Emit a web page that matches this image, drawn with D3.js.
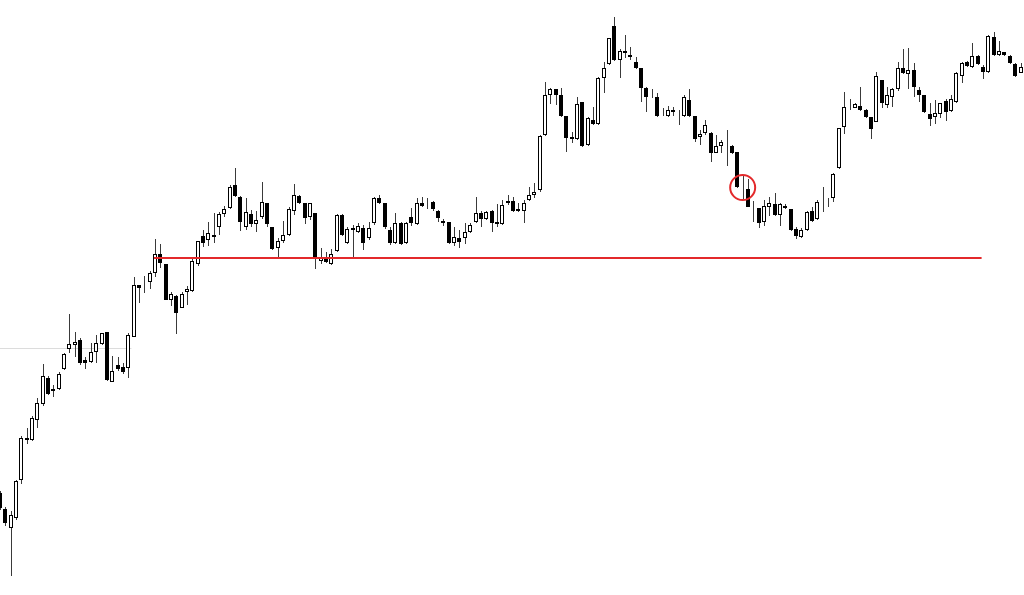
<!DOCTYPE html>
<html>
<head>
<meta charset="utf-8">
<script src="https://cdn.jsdelivr.net/npm/d3@7"></script>
<style>
  html, body { margin: 0; padding: 0; background: #fff; }
  svg { display: block; }
</style>
</head>
<body>
<div id="chart"></div>
<script>
// ---- Data (price units) ----
const opens = [
  107,91,72,82,120,160,160,180,196,222,
  209,211,231,251,255,260,240,238,248,256,
  268,218,235,233,232,263,315,313,318,327,
  346,336,300,304,292,308,309,336,364,360,
  363,373,386,392,415,403,373,386,376,383,
  397,373,352,359,365,389,404,397,383,387,
  339,343,336,349,385,357,372,368,372,362,
  377,402,397,370,357,377,357,383,376,397,
  397,398,389,379,378,357,362,362,368,378,
  387,381,389,378,376,397,399,391,389,400,
  405,410,465,505,511,505,484,463,461,498,
  455,480,476,522,536,574,540,549,545,538,
  532,512,504,503,486,484,490,486,484,500,
  484,463,467,467,447,454,455,454,448,412,
  411,392,392,378,393,396,385,394,391,371,
  363,370,389,381,398,398,402,432,473,492,
  492,494,490,483,478,520,495,503,511,532,
  526,530,510,505,486,483,486,499,489,498,
  524,538,533,544,533,528,563,545,548,544,
  536,527
];
const highs = [
  109,93,89,120,164,172,184,202,236,224,
  215,228,247,286,268,262,243,257,265,267,
  268,244,243,237,267,323,315,324,329,361,
  356,336,308,305,308,314,341,359,370,378,
  387,388,394,415,432,404,402,390,389,418,
  397,373,362,379,393,416,405,397,397,387,
  352,348,351,386,386,373,375,377,375,378,
  403,405,397,373,387,378,378,392,402,403,
  402,399,390,381,378,373,370,377,377,403,
  389,389,390,396,400,405,403,397,400,413,
  417,465,518,512,511,512,484,468,503,498,
  483,493,523,538,562,583,551,565,553,543,
  532,513,511,507,492,494,493,490,505,511,
  484,470,480,468,465,460,470,455,448,425,
  421,399,392,400,403,407,397,396,391,373,
  372,389,393,400,413,402,427,472,508,501,
  497,513,491,483,528,520,513,512,538,551,
  552,537,513,505,497,500,497,501,505,528,
  538,539,557,545,535,565,568,559,548,545,
  537,537
];
const lows = [
  90,74,24,80,116,156,159,172,194,205,
  203,210,230,247,243,235,231,237,237,255,
  219,218,229,226,222,263,297,307,311,323,
  332,300,294,266,292,295,308,334,353,354,
  357,365,383,391,403,369,370,373,368,381,
  373,350,343,357,364,385,396,376,380,331,
  336,337,335,348,364,356,343,367,350,360,
  375,396,371,355,356,355,356,374,375,393,
  391,389,378,374,356,354,352,356,367,377,
  373,380,368,373,375,395,388,388,377,399,
  402,408,464,496,495,483,448,457,460,453,
  454,475,475,507,535,539,522,542,540,531,
  498,488,502,483,484,483,484,475,483,483,
  458,455,465,438,447,447,434,446,412,401,
  393,378,372,374,384,384,374,391,369,361,
  362,369,378,380,388,393,398,431,466,490,
  492,489,482,461,478,492,492,493,509,526,
  511,503,498,487,474,476,482,479,488,497,
  517,533,532,535,521,527,544,544,544,536,
  523,527
];
const closes = [
  92,77,85,119,162,162,182,197,224,206,
  211,226,246,256,258,237,237,248,257,267,
  220,229,231,228,265,315,312,313,327,346,
  337,300,306,287,306,311,339,359,357,367,
  365,386,391,413,404,378,388,376,380,398,
  376,351,359,365,391,405,397,382,397,342,
  343,338,346,385,365,371,370,374,357,372,
  402,397,373,357,377,356,377,377,397,394,
  397,391,382,377,357,363,358,368,375,387,
  381,388,377,376,395,399,389,389,397,405,
  408,464,505,511,505,484,462,461,496,454,
  482,476,522,532,562,540,549,547,543,532,
  512,503,504,484,485,490,488,486,503,484,
  461,466,475,447,454,458,455,447,413,411,
  393,392,377,394,397,385,396,392,370,364,
  370,388,379,398,398,398,426,472,493,492,
  496,490,483,471,524,497,505,511,532,527,
  530,513,505,488,481,487,497,488,501,527,
  537,534,544,536,528,564,545,549,545,537,
  524,533
];

// Annotations
const supportLevel = 342;      // red horizontal level
const supportFrom = 29;        // candle index where it starts
const supportTo = 184;         // candle index where it ends
const refLevel = 252;          // faint gray reference line
const refTo = 24.6;            // candle index where it ends
const markIndex = 139;         // circled candle
const markPrice = 412.5;

// ---- Build ----
const W = 1024, H = 595;
const n = opens.length;
const candles = opens.map((o, i) => ({ i, o, h: highs[i], l: lows[i], c: closes[i] }));

const x = d3.scaleLinear().domain([0, n - 1]).range([0, 1020.5]);
const y = d3.scaleLinear().domain([0, 600]).range([600, 0]);

const svg = d3.select("#chart").append("svg")
  .attr("width", W).attr("height", H)
  .style("background", "#fff");

// faint gray reference line
svg.append("line")
  .attr("x1", x(0) - 2).attr("x2", x(refTo))
  .attr("y1", Math.round(y(refLevel)) + 0.5)
  .attr("y2", Math.round(y(refLevel)) + 0.5)
  .attr("stroke", "#dcdcdc").attr("stroke-width", 1);

const g = svg.append("g").selectAll("g").data(candles).join("g");

g.append("line")
  .attr("x1", d => Math.round(x(d.i)) + 0.5)
  .attr("x2", d => Math.round(x(d.i)) + 0.5)
  .attr("y1", d => Math.round(y(d.h)))
  .attr("y2", d => Math.round(y(d.l)))
  .attr("stroke", "#3a3a3a").attr("stroke-width", 1);

g.append("rect")
  .attr("x", d => Math.round(x(d.i)) - 1.5)
  .attr("y", d => Math.round(y(Math.max(d.o, d.c))) + 0.5)
  .attr("width", 3)
  .attr("height", d => Math.max(0, Math.round(y(Math.min(d.o, d.c))) - Math.round(y(Math.max(d.o, d.c))) - 1))
  .attr("fill", d => d.c >= d.o ? "#fff" : "#000")
  .attr("stroke", "#000").attr("stroke-width", 1);

// red level line
svg.append("line")
  .attr("x1", x(supportFrom) - 1).attr("x2", x(supportTo) - 1.5)
  .attr("y1", Math.round(y(supportLevel)))
  .attr("y2", Math.round(y(supportLevel)))
  .attr("stroke", "#e3292b").attr("stroke-width", 2);

// red circle marker
svg.append("circle")
  .attr("cx", x(markIndex)).attr("cy", y(markPrice))
  .attr("r", 12.5)
  .attr("fill", "none")
  .attr("stroke", "#e3292b").attr("stroke-width", 2);
</script>
</body>
</html>
